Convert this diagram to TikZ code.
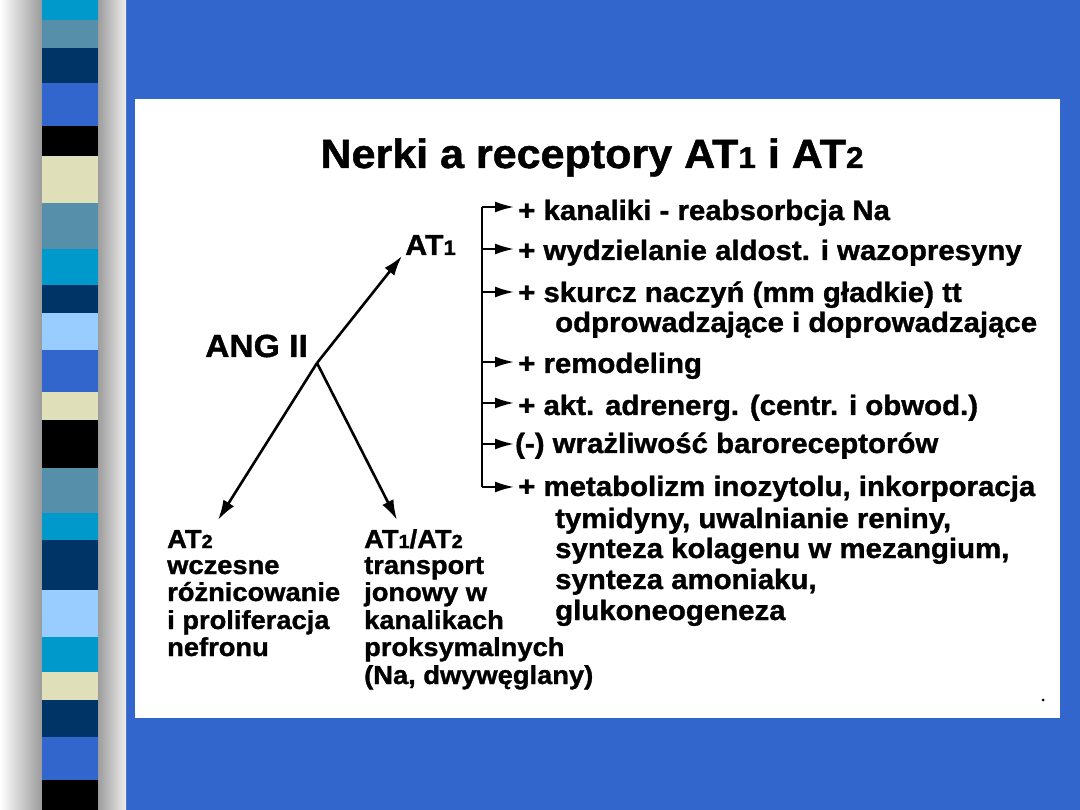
\documentclass[tikz,border=0pt]{standalone}
\usepackage{fontspec}
\setmainfont[FakeStretch=1.05, BoldFeatures={FakeBold=1.2}]{Liberation Sans}
\usetikzlibrary{arrows.meta}
\definecolor{bgblue}{HTML}{3366CC}
\definecolor{cyanS}{HTML}{0099CC}
\definecolor{steelS}{HTML}{558FAA}
\definecolor{navyS}{HTML}{003366}
\definecolor{beigeS}{HTML}{DFDFBA}
\definecolor{lightS}{HTML}{99CCFF}
\definecolor{shadeG}{HTML}{9A9A9A}
\newcommand\dg[2]{{\fontsize{#1pt}{#1pt}\selectfont #2}}
\tikzset{
  txt/.style={inner sep=0pt, anchor=base west, font=\bfseries\fontsize{28pt}{30pt}\selectfont},
  btxt/.style={inner sep=0pt, anchor=base west, font=\bfseries\fontsize{26pt}{28pt}\selectfont},
  mainarr/.style={line width=2.6pt, -{Latex[length=20pt,width=12.5pt]}},
  brkline/.style={line width=2pt},
  brkarr/.style={line width=2pt, -{Latex[length=19pt,width=11pt]}}
}
\begin{document}
\begin{tikzpicture}[x=1pt,y=-1pt]
\useasboundingbox (0,0) rectangle (1080,810);
\fill[bgblue] (0,0) rectangle (1080,810);
% side shading band
\shade[left color=white, right color=shadeG] (0,0) rectangle (42,810);
\shade[left color=shadeG, right color=white!93!black] (97,0) rectangle (126,810);
\foreach \a/\b/\c in {0/20/cyanS,20/48/steelS,48/83/navyS,83/126/bgblue,126/156/black,156/203/beigeS,203/249/steelS,249/285/cyanS,285/313/navyS,313/350/lightS,350/392/bgblue,392/420/beigeS,420/468/black,468/513/steelS,513/540/cyanS,540/590/navyS,590/637/lightS,637/672/cyanS,672/700/beigeS,700/737/navyS,737/780/bgblue,780/810/black}
  \fill[\c] (42,\a) rectangle (98,\b);
% white panel
\fill[white] (135,99) rectangle (1060,718);

% title
\node[inner sep=0pt, anchor=base, font=\bfseries\fontsize{41pt}{42pt}\selectfont] (title) at (592,168)
  {Nerki a receptory AT\dg{30}{1} i AT\dg{30}{2}};

% left diagram
\node[inner sep=0pt, anchor=base west, font=\bfseries\fontsize{32pt}{34pt}\selectfont] (ang) at (205,357) {ANG II};
\node[inner sep=0pt, anchor=base west, font=\bfseries\fontsize{29pt}{30pt}\selectfont] (at1) at (405,255) {AT\dg{21}{1}};
\coordinate (j) at (317,363);
\coordinate (tipA) at (402,256);
\coordinate (tipB) at (218,520);
\coordinate (tipC) at (397,520);
\draw[mainarr] (j) -- (tipA);
\draw[mainarr] (j) -- (tipB);
\draw[mainarr] (j) -- (tipC);

% bottom left column
\node[btxt] (l1) at (167,548) {AT\dg{19}{2}};
\node[btxt] (l2) at (167,574) {wczesne};
\node[btxt] (l3) at (167,601) {różnicowanie};
\node[btxt] (l4) at (167,629) {i proliferacja};
\node[btxt] (l5) at (167,656) {nefronu};
% bottom middle column
\node[btxt] (m1) at (364,548) {AT\dg{19}{1}/AT\dg{19}{2}};
\node[btxt] (m2) at (364,574) {transport};
\node[btxt] (m3) at (364,601) {jonowy w};
\node[btxt] (m4) at (364,629) {kanalikach};
\node[btxt] (m5) at (364,656) {proksymalnych};
\node[btxt] (m6) at (364,684) {(Na, dwywęglany)};

% bracket
\foreach \i/\y in {1/207,2/249,3/292,4/362,5/403,6/444,7/487}{
  \coordinate (s\i) at (482,\y);
  \coordinate (e\i) at (514,\y);
}
\draw[brkline] (s1) -- (s7);
\foreach \i in {1,...,7}{ \draw[brkarr] (s\i) -- (e\i); }

% right list
\node[txt] (r1) at (518,220) {+ kanaliki - reabsorbcja Na};
\node[txt] (r2) at (518,260) {+ wydzielanie aldost. i wazopresyny};
\node[txt] (r3) at (518,302) {+ skurcz naczyń (mm gładkie) tt};
\node[txt] (r3b) at (555,332) {odprowadzające i doprowadzające};
\node[txt] (r4) at (518,373) {+ remodeling};
\node[txt] (r5) at (518,415) {+ akt. adrenerg. (centr. i obwod.)};
\node[txt] (r6) at (515,453) {(-) wrażliwość baroreceptorów};
\node[txt] (r7) at (518,496) {+ metabolizm inozytolu, inkorporacja};
\node[txt] (r7b) at (555,528) {tymidyny, uwalnianie reniny,};
\node[txt] (r7c) at (555,558) {synteza kolagenu w mezangium,};
\node[txt] (r7d) at (555,589) {synteza amoniaku,};
\node[txt] (r7e) at (555,620) {glukoneogeneza};

\fill (1043,700) circle (1.5);
\end{tikzpicture}
\end{document}
